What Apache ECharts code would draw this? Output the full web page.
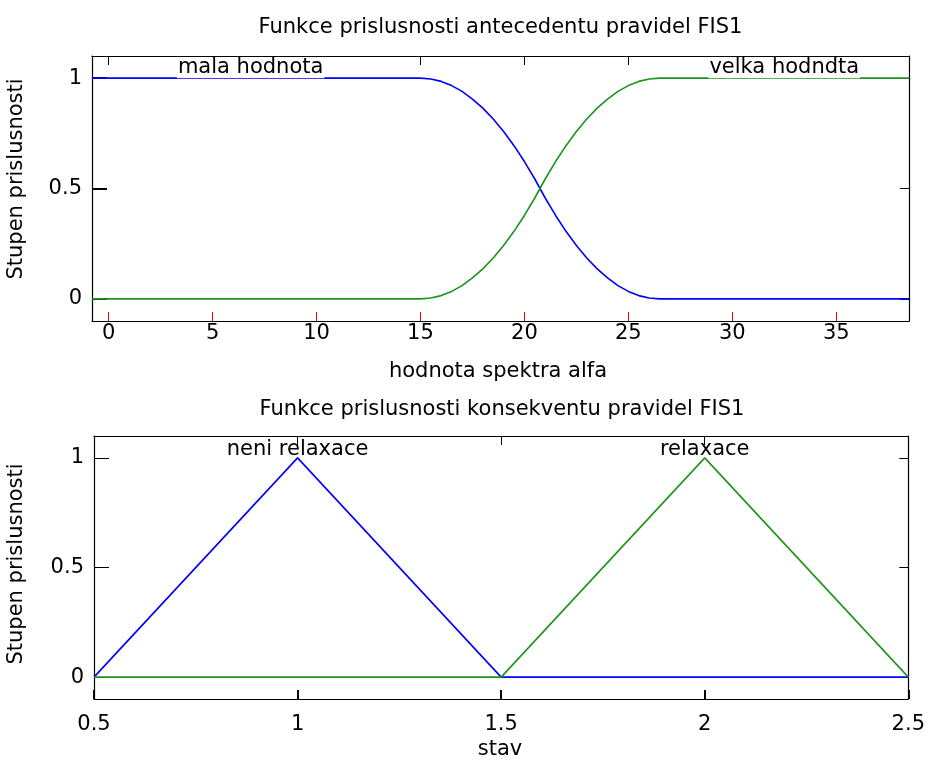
<!DOCTYPE html>
<html>
<head>
<meta charset="utf-8">
<script src="https://cdn.jsdelivr.net/npm/echarts@6/dist/echarts.min.js"></script>
<style>
  html, body { margin: 0; padding: 0; background: #fff; }
  #chart { width: 928px; height: 761px; }
</style>
</head>
<body>
<div id="chart"></div>
<script>
const alphaX     = [-0.8, 15, 15.5, 16, 16.5, 17, 17.5, 18, 18.5, 19, 19.5, 20, 20.5, 21, 21.5, 22, 22.5, 23, 23.5, 24, 24.5, 25, 25.5, 26, 26.5, 38.5];
const malaValues = [1, 1, 0.996, 0.985, 0.966, 0.94, 0.905, 0.864, 0.815, 0.758, 0.694, 0.622, 0.543, 0.457, 0.378, 0.306, 0.242, 0.185, 0.136, 0.095, 0.06, 0.034, 0.015, 0.004, 0, 0];
const velkaValues= [0, 0, 0.004, 0.015, 0.034, 0.06, 0.095, 0.136, 0.185, 0.242, 0.306, 0.378, 0.457, 0.543, 0.622, 0.694, 0.758, 0.815, 0.864, 0.905, 0.94, 0.966, 0.985, 0.996, 1, 1];
const alphaTicks = [0, 5, 10, 15, 20, 25, 30, 35];
const nerelaxX   = [0.5, 1, 1.5, 2.5];
const nerelaxY   = [0, 1, 0, 0];
const relaxX     = [0.5, 1.5, 2, 2.5];
const relaxY     = [0, 0, 1, 0];
const stavTicks  = [0.5, 1, 1.5, 2, 2.5];
const membershipTicks = [0, 0.5, 1];
const topLabels    = [[6.83, 1.047, 'mala hodnota'], [32.5, 1.047, 'velka hodndta']];
const bottomLabels = [[1, 1.04, 'neni relaxace'], [2, 1.04, 'relaxace']];

const FONT = 'DejaVu Sans';
const TEXT_FONT = '21px "DejaVu Sans"';
const BLUE = '#0000ff';
const GREEN = '#1a951a';
const fmtNum = v => String(+v.toFixed(2));
const zip = (xs, ys) => xs.map((x, i) => [x, ys[i]]);

const frameLine = () => ({ show: true, onZero: false, lineStyle: { color: '#000', width: 1.2 } });
const ticks = (values, len, color, width) => ({ show: true, inside: true, length: len || 9, customValues: values, lineStyle: { color: color || '#000', width: width || 1 } });
const labels = (values, margin) => ({
  show: true, color: '#000', fontFamily: FONT, fontSize: 21, customValues: values,
  formatter: fmtNum, margin, showMinLabel: true, showMaxLabel: true
});

function xAxes(grid, min, max, values, labelMargin, t) {
  return [
    { type: 'value', gridIndex: grid, min, max, position: 'bottom',
      axisLine: frameLine(), axisTick: t, axisLabel: labels(values, labelMargin),
      splitLine: { show: false } },
    { type: 'value', gridIndex: grid, min, max, position: 'top',
      axisLine: frameLine(), axisTick: ticks(values), axisLabel: { show: false },
      splitLine: { show: false } }
  ];
}
function yAxes(grid, t) {
  return [
    { type: 'value', gridIndex: grid, min: -0.1, max: 1.1, position: 'left',
      axisLine: frameLine(), axisTick: t, axisLabel: labels(membershipTicks, 10),
      splitLine: { show: false } },
    { type: 'value', gridIndex: grid, min: -0.1, max: 1.1, position: 'right',
      axisLine: frameLine(), axisTick: ticks(membershipTicks), axisLabel: { show: false },
      splitLine: { show: false } }
  ];
}
function labelSeries(xi, yi, items, withBg) {
  return {
    type: 'scatter', xAxisIndex: xi, yAxisIndex: yi, symbolSize: 0, silent: true, z: 5,
    itemStyle: { opacity: 1 },
    data: items.map(d => ({ value: [d[0], d[1]], name: d[2] })),
    label: { show: true, position: 'inside', formatter: p => p.name, opacity: 1,
      color: '#000', fontFamily: FONT, fontSize: 21,
      backgroundColor: withBg ? '#fff' : 'transparent', padding: [0, 1] }
  };
}
const lineSeries = (xi, yi, xs, ys, c) => ({
  type: 'line', xAxisIndex: xi, yAxisIndex: yi, data: zip(xs, ys), showSymbol: false,
  lineStyle: { color: c, width: 1.6 }, itemStyle: { color: c }
});
const textEl = (x, y, text, rotation) => ({
  type: 'text', x, y, rotation: rotation || 0,
  style: { text, font: TEXT_FONT, fill: '#000', align: 'center', verticalAlign: 'middle' }
});

const option = {
  backgroundColor: '#fff',
  animation: false,
  grid: [
    { left: 92, top: 56, right: 19, height: 265 },
    { left: 94, top: 436, right: 18, height: 263 }
  ],
  xAxis: [
    ...xAxes(0, -0.8, 38.5, alphaTicks, 2, ticks(alphaTicks, 9, 'red', 1)),
    ...xAxes(1, 0.5, 2.5, stavTicks, 15, ticks(stavTicks, 9, '#000', 2))
  ],
  yAxis: [
    ...yAxes(0, ticks(membershipTicks, 15, '#000', 2)),
    ...yAxes(1, ticks(membershipTicks, 15, '#000', 1))
  ],
  graphic: [
    textEl(500.5, 28, 'Funkce prislusnosti antecedentu pravidel FIS1'),
    textEl(498, 372, 'hodnota spektra alfa'),
    textEl(17, 179, 'Stupen prislusnosti', Math.PI / 2),
    textEl(502, 410, 'Funkce prislusnosti konsekventu pravidel FIS1'),
    textEl(500, 750, 'stav'),
    textEl(17, 564, 'Stupen prislusnosti', Math.PI / 2)
  ],
  series: [
    lineSeries(0, 0, alphaX, malaValues, BLUE),
    lineSeries(0, 0, alphaX, velkaValues, GREEN),
    labelSeries(0, 0, topLabels, true),
    lineSeries(2, 2, nerelaxX, nerelaxY, BLUE),
    lineSeries(2, 2, relaxX, relaxY, GREEN),
    labelSeries(2, 2, bottomLabels, false)
  ]
};
echarts.init(document.getElementById('chart'), null, { renderer: 'canvas' }).setOption(option);
</script>
</body>
</html>
